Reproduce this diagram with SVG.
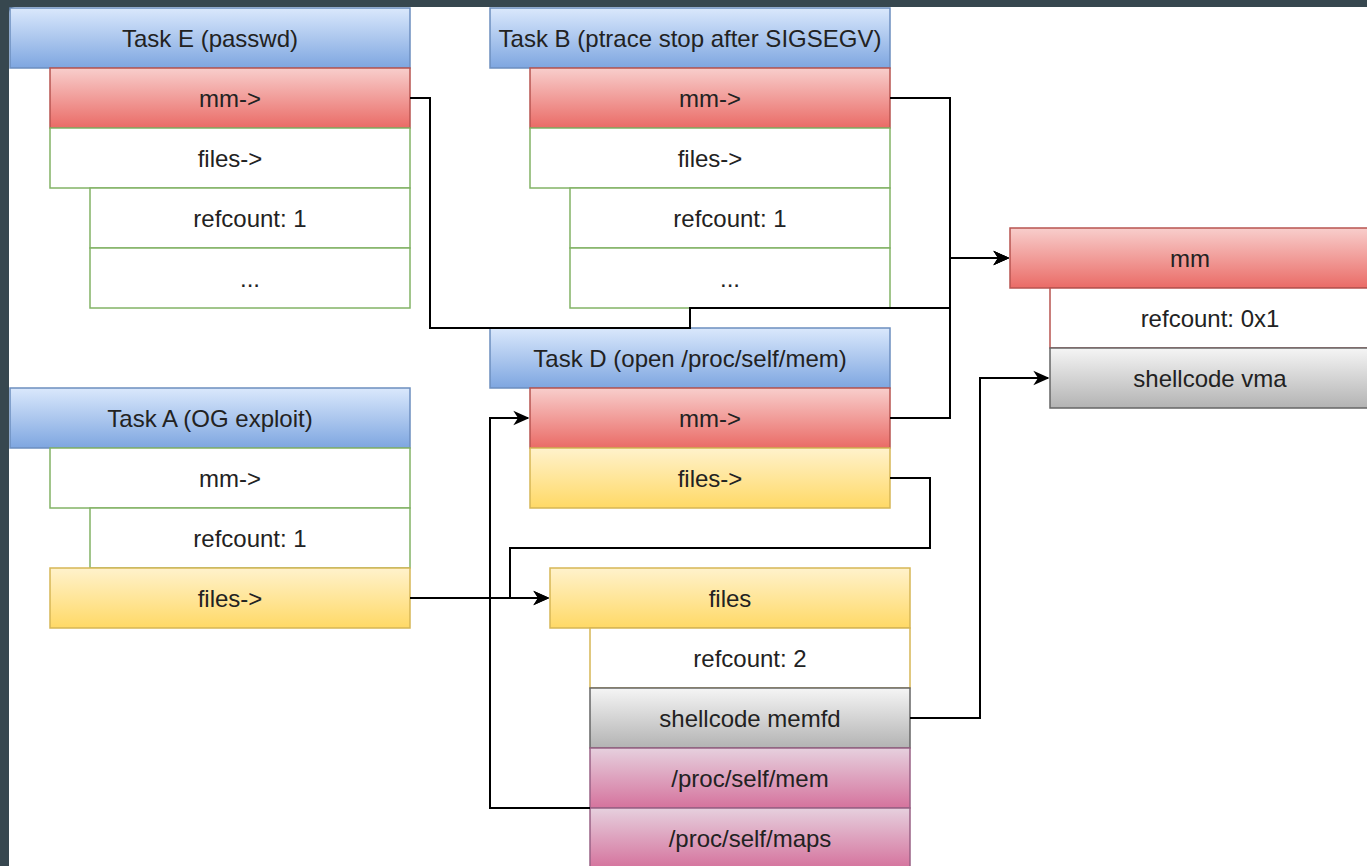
<svg xmlns="http://www.w3.org/2000/svg" width="1367" height="866" viewBox="0 0 1367 866">
  <defs>
    <linearGradient id="gBlue" x1="0" y1="0" x2="0" y2="1">
      <stop offset="0" stop-color="#dae8fc"/>
      <stop offset="1" stop-color="#7ea6e0"/>
    </linearGradient>
    <linearGradient id="gRed" x1="0" y1="0" x2="0" y2="1">
      <stop offset="0" stop-color="#f8cecc"/>
      <stop offset="1" stop-color="#ea6b66"/>
    </linearGradient>
    <linearGradient id="gYellow" x1="0" y1="0" x2="0" y2="1">
      <stop offset="0" stop-color="#fff2cc"/>
      <stop offset="1" stop-color="#ffd966"/>
    </linearGradient>
    <linearGradient id="gGray" x1="0" y1="0" x2="0" y2="1">
      <stop offset="0" stop-color="#f5f5f5"/>
      <stop offset="1" stop-color="#b3b3b3"/>
    </linearGradient>
    <linearGradient id="gPink" x1="0" y1="0" x2="0" y2="1">
      <stop offset="0" stop-color="#e6d0de"/>
      <stop offset="1" stop-color="#d5739d"/>
    </linearGradient>
    <marker id="arrow" viewBox="0 0 12 12" refX="11" refY="6" markerWidth="16" markerHeight="16" markerUnits="userSpaceOnUse" orient="auto">
      <path d="M0,0.5 L12,6 L0,11.5 L3.5,6 Z" fill="#000"/>
    </marker>
  </defs>
  <style>
    .blue { fill: url(#gBlue); stroke: #6c8ebf; stroke-width: 1.5; }
    .red { fill: url(#gRed); stroke: #b85450; stroke-width: 1.5; }
    .yellow { fill: url(#gYellow); stroke: #d6b656; stroke-width: 1.5; }
    .gray { fill: url(#gGray); stroke: #666666; stroke-width: 1.5; }
    .pink { fill: url(#gPink); stroke: #996185; stroke-width: 1.5; }
    .plain { fill: #ffffff; stroke: #82b366; stroke-width: 1.5; }
    .plainRed { fill: #ffffff; stroke: #b85450; stroke-width: 1.5; }
    .plainYellow { fill: #ffffff; stroke: #d6b656; stroke-width: 1.5; }
    text { font-family: "Liberation Sans", Arial, Helvetica, sans-serif; font-size: 24px; fill: #222222; text-anchor: middle; dominant-baseline: central; }
    .edge { fill: none; stroke: #000; stroke-width: 2; }
  </style>

  <!-- window frame -->
  <rect x="0" y="0" width="1367" height="866" fill="#37474f"/>
  <rect x="9" y="7" width="1380" height="880" rx="6" fill="#ffffff"/>

  <!-- Task E -->
  <g id="taskE">
    <rect class="blue" x="10" y="8" width="400" height="60"/>
    <text x="210" y="38">Task E (passwd)</text>
    <rect class="red" x="50" y="68" width="360" height="60"/>
    <text x="230" y="98">mm-&gt;</text>
    <rect class="plain" x="50" y="128" width="360" height="60"/>
    <text x="230" y="158">files-&gt;</text>
    <rect class="plain" x="90" y="188" width="320" height="60"/>
    <text x="250" y="218">refcount: 1</text>
    <rect class="plain" x="90" y="248" width="320" height="60"/>
    <text x="250" y="278">...</text>
  </g>

  <!-- Task B -->
  <g id="taskB">
    <rect class="blue" x="490" y="8" width="400" height="60"/>
    <text x="690" y="38">Task B (ptrace stop after SIGSEGV)</text>
    <rect class="red" x="530" y="68" width="360" height="60"/>
    <text x="710" y="98">mm-&gt;</text>
    <rect class="plain" x="530" y="128" width="360" height="60"/>
    <text x="710" y="158">files-&gt;</text>
    <rect class="plain" x="570" y="188" width="320" height="60"/>
    <text x="730" y="218">refcount: 1</text>
    <rect class="plain" x="570" y="248" width="320" height="60"/>
    <text x="730" y="278">...</text>
  </g>

  <!-- shared mm -->
  <g id="mm">
    <rect class="red" x="1010" y="228" width="370" height="60"/>
    <text x="1190" y="258">mm</text>
    <rect class="plainRed" x="1050" y="288" width="330" height="60"/>
    <text x="1210" y="318">refcount: 0x1</text>
    <rect class="gray" x="1050" y="348" width="330" height="60"/>
    <text x="1210" y="378">shellcode vma</text>
  </g>

  <!-- Task D -->
  <g id="taskD">
    <rect class="blue" x="490" y="328" width="400" height="60"/>
    <text x="690" y="358">Task D (open /proc/self/mem)</text>
    <rect class="red" x="530" y="388" width="360" height="60"/>
    <text x="710" y="418">mm-&gt;</text>
    <rect class="yellow" x="530" y="448" width="360" height="60"/>
    <text x="710" y="478">files-&gt;</text>
  </g>

  <!-- Task A -->
  <g id="taskA">
    <rect class="blue" x="10" y="388" width="400" height="60"/>
    <text x="210" y="418">Task A (OG exploit)</text>
    <rect class="plain" x="50" y="448" width="360" height="60"/>
    <text x="230" y="478">mm-&gt;</text>
    <rect class="plain" x="90" y="508" width="320" height="60"/>
    <text x="250" y="538">refcount: 1</text>
    <rect class="yellow" x="50" y="568" width="360" height="60"/>
    <text x="230" y="598">files-&gt;</text>
  </g>

  <!-- shared files -->
  <g id="files">
    <rect class="yellow" x="550" y="568" width="360" height="60"/>
    <text x="730" y="598">files</text>
    <rect class="plainYellow" x="590" y="628" width="320" height="60"/>
    <text x="750" y="658">refcount: 2</text>
    <rect class="gray" x="590" y="688" width="320" height="60"/>
    <text x="750" y="718">shellcode memfd</text>
    <rect class="pink" x="590" y="748" width="320" height="60"/>
    <text x="750" y="778">/proc/self/mem</text>
    <rect class="pink" x="590" y="808" width="320" height="60"/>
    <text x="750" y="838">/proc/self/maps</text>
  </g>

  <!-- connectors -->
  <g id="edges">
    <path class="edge" d="M410,98 H430 V328 H690 V308 H950 V258 H1008" marker-end="url(#arrow)"/>
    <path class="edge" d="M890,98 H950 V258 H1008" marker-end="url(#arrow)"/>
    <path class="edge" d="M890,418 H950 V258 H1008" marker-end="url(#arrow)"/>
    <path class="edge" d="M410,598 H548" marker-end="url(#arrow)"/>
    <path class="edge" d="M890,478 H930 V548 H510 V598 H548" marker-end="url(#arrow)"/>
    <path class="edge" d="M590,808 H490 V418 H528" marker-end="url(#arrow)"/>
    <path class="edge" d="M910,718 H980 V378 H1048" marker-end="url(#arrow)"/>
  </g>
</svg>
